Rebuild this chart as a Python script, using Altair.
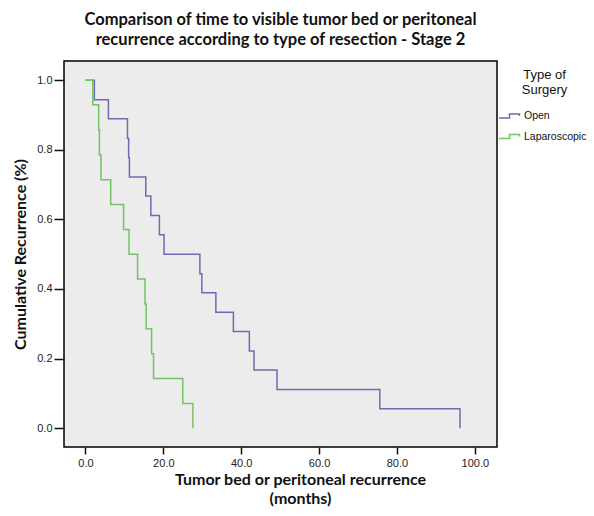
import altair as alt
import pandas as pd

# Kaplan-Meier style step data
groups = ["Open", "Laparoscopic"]
colors = ["#6B6DB0", "#74C266"]

times_open = [0, 2.3, 5.9, 10.8, 11.1, 11.3, 15.5, 16.8, 19.0, 20.2, 29.4, 29.9,
              33.5, 38.0, 42.1, 43.3, 49.2, 75.6, 96.2]
surv_open = [1.0, 0.944, 0.889, 0.833, 0.778, 0.722, 0.667, 0.611, 0.556, 0.5,
             0.444, 0.389, 0.333, 0.278, 0.222, 0.167, 0.111, 0.056, 0.0]

times_lap = [0, 1.9, 3.4, 3.6, 4.0, 6.5, 9.8, 11.2, 13.4, 15.3, 15.6, 17.0, 17.5,
             25.0, 27.6]
surv_lap = [1.0, 0.929, 0.857, 0.786, 0.714, 0.643, 0.571, 0.5, 0.429, 0.357,
            0.286, 0.214, 0.143, 0.071, 0.0]

x_ticks = [0, 20, 40, 60, 80, 100]
y_ticks = [0.0, 0.2, 0.4, 0.6, 0.8, 1.0]

df = pd.concat([
    pd.DataFrame({"time": times_open, "surv": surv_open, "surgery": groups[0]}),
    pd.DataFrame({"time": times_lap, "surv": surv_lap, "surgery": groups[1]}),
], ignore_index=True)

step_path = "M-2.1,0.4L0,0.4L0,-0.4L2,-0.4L2,0"

chart = alt.Chart(df).mark_line(
    interpolate="step-after", strokeWidth=1.5, clip=True
).encode(
    x=alt.X(
        "time:Q",
        scale=alt.Scale(domain=[-5.5, 105.7], nice=False, zero=False),
        axis=alt.Axis(
            values=x_ticks, format=".1f",
            title=["Tumor bed or peritoneal recurrence", "(months)"],
            titleFont="Lato", titleFontSize=16, titleFontWeight="bold",
            titleColor="#111", titleX=236, titleY=24.5, titleAlign="center",
            titleBaseline="top", titleLineHeight=18.5,
            labelFont="Liberation Sans", labelFontSize=11, labelColor="#222",
            labelPadding=3, tickSize=7, tickColor="#111", tickWidth=1.5,
            domain=False, grid=False,
        ),
    ),
    y=alt.Y(
        "surv:Q",
        scale=alt.Scale(domain=[-0.054, 1.055], nice=False, zero=False),
        axis=alt.Axis(
            values=y_ticks, format=".1f",
            title="Cumulative Recurrence (%)",
            titleFont="Lato", titleFontSize=16, titleFontWeight="bold",
            titleColor="#111", titleX=-44, titleY=193, titleAlign="center",
            titleBaseline="middle", titleAngle=270,
            labelFont="Liberation Sans", labelFontSize=11, labelColor="#222",
            labelPadding=2, tickSize=10, tickColor="#111", tickWidth=1.5,
            domain=False, grid=False,
        ),
    ),
    color=alt.Color(
        "surgery:N",
        scale=alt.Scale(domain=groups, range=colors),
        legend=alt.Legend(
            orient="none", legendX=439.5, legendY=8,
            title=["Type of", "Surgery"],
            titleFont="Liberation Sans", titleFontSize=13, titleFontWeight="normal",
            titleColor="#111", titleAnchor="middle", titleAlign="center",
            titleLineHeight=15, titlePadding=13,
            labelFont="Liberation Sans", labelFontSize=10.5, labelColor="#111",
            labelOffset=8.5, rowPadding=8.5, padding=0,
            symbolType=step_path, symbolSize=100, symbolStrokeWidth=1.5,
            symbolFillColor="transparent",
        ),
    ),
).properties(
    width=433,
    height=386,
    background="white",
    autosize=alt.AutoSizeParams(type="none"),
    padding={"left": 56, "top": 53, "right": 89, "bottom": 61},
    title=alt.TitleParams(
        text=["Comparison  of time to visible tumor bed or peritoneal",
              "recurrence according to type of resection - Stage 2"],
        font="Lato", fontSize=16.5, fontWeight="bold", color="#111",
        anchor="middle", offset=12.5, lineHeight=20,
    ),
).configure_view(
    stroke="#000000", strokeWidth=1.5, fill="#ECECEC"
)

chart.save("out.html", embed_options={"renderer": "svg", "actions": False})
